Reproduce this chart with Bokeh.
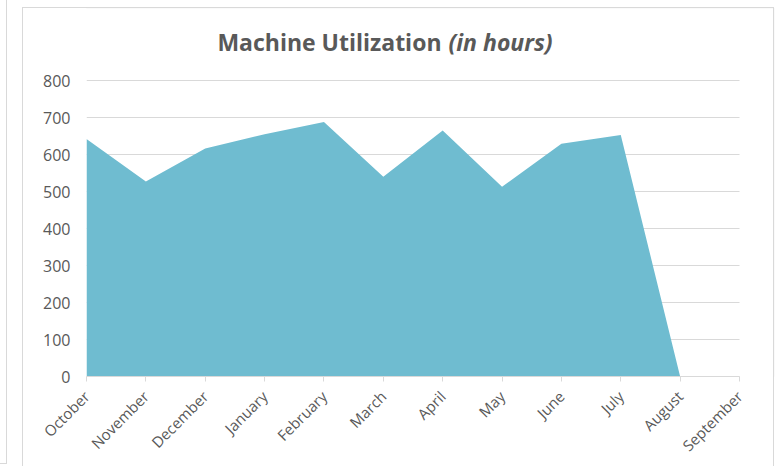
from math import pi
from bokeh.plotting import figure
from bokeh.models import Range1d, FixedTicker, Label, BoxAnnotation
from bokeh.embed import file_html
from bokeh.resources import INLINE

# ---- data ----
months = ["October", "November", "December", "January", "February", "March",
          "April", "May", "June", "July", "August", "September"]
hours = [642, 527, 616, 655, 688, 540, 665, 513, 629, 653, 0, None]
y_ticks = [0, 100, 200, 300, 400, 500, 600, 700, 800]
title_main = "Machine Utilization"
title_unit = "(in hours)"

# ---- layout (canvas pixels) ----
W, H = 776, 466
PLOT_L, PLOT_R, PLOT_T, PLOT_B = 86, 739, 80, 376      # where the data area sits
ML, MB = PLOT_L, H - PLOT_B                              # frame extends to top/right edges
X_LAST = len(months) - 1
Y_TOP = y_ticks[-1]
x_end = X_LAST * (W - PLOT_L) / (PLOT_R - PLOT_L)
y_end = Y_TOP * (PLOT_B - 0) / (PLOT_B - PLOT_T)

TXT = "#595959"
GRID = "#d9d9d9"
FILL = "#6fbcd0"
FONT = "Open Sans"

p = figure(width=W, height=H, output_backend="svg", toolbar_location=None, tools="",
           x_range=Range1d(0, x_end), y_range=Range1d(0, y_end),
           min_border_left=ML, min_border_right=0, min_border_top=0, min_border_bottom=MB)
p.title.visible = False
p.outline_line_color = None
p.background_fill_alpha = 0
p.border_fill_alpha = 0

# chart box borders drawn behind the transparent canvas
lines = [(6, 0, 1, 464), (0, 463, 7, 1), (22, 7, 1, 459), (22, 7, 752, 1), (773, 7, 1, 459)]
p.styles = {
    "background-color": "white",
    "background-image": ", ".join([f"linear-gradient({GRID}, {GRID})"] * len(lines)),
    "background-position": ", ".join(f"{x}px {y}px" for x, y, w, h in lines),
    "background-size": ", ".join(f"{w}px {h}px" for x, y, w, h in lines),
    "background-repeat": "no-repeat",
}

# grid lines (0..800), limited to the data area
p.xgrid.visible = False
p.ygrid.visible = False
p.segment(x0=[0] * len(y_ticks), x1=[X_LAST] * len(y_ticks), y0=y_ticks, y1=y_ticks,
          line_color=GRID, line_width=1)

xs = [i for i, v in enumerate(hours) if v is not None]
ys = [v for v in hours if v is not None]
p.varea(x=xs, y1=[0] * len(xs), y2=ys, fill_color=FILL, fill_alpha=1.0)

# x axis
xa = p.xaxis[0]
xa.ticker = FixedTicker(ticks=list(range(len(months))))
xa.bounds = (0, X_LAST)
xa.major_label_overrides = {i: m for i, m in enumerate(months)}
xa.major_label_orientation = pi / 4
xa.axis_line_color = GRID
xa.major_tick_line_color = GRID
xa.major_tick_in = 0
xa.major_tick_out = 5
xa.minor_tick_line_color = None
xa.major_label_text_color = TXT
xa.major_label_text_font = FONT
xa.major_label_text_font_size = "15px"
xa.major_label_standoff = 12

# y axis
ya = p.yaxis[0]
ya.ticker = FixedTicker(ticks=y_ticks)
ya.axis_line_color = None
ya.major_tick_line_color = None
ya.minor_tick_line_color = None
ya.major_tick_in = 0
ya.major_tick_out = 0
ya.major_label_standoff = 16
ya.major_label_text_color = TXT
ya.major_label_text_font = FONT
ya.major_label_text_font_size = "16px"

# borders inside the frame (top / right), in canvas units
p.add_layout(BoxAnnotation(left=22.5, right=773.5, top=7.5, bottom=H + 20,
                           left_units="canvas", right_units="canvas",
                           top_units="canvas", bottom_units="canvas",
                           fill_alpha=0, line_color=GRID, line_width=1, level="underlay"))

# title (two parts: bold + bold italic)
p.add_layout(Label(x=441, y=41, x_units="canvas", y_units="canvas", text=title_main,
                   text_align="right", text_baseline="alphabetic", text_font=FONT,
                   text_font_style="bold", text_font_size="23px", text_color=TXT))
p.add_layout(Label(x=448, y=41, x_units="canvas", y_units="canvas", text=title_unit,
                   text_align="left", text_baseline="alphabetic", text_font=FONT,
                   text_font_style="bold italic", text_font_size="23px", text_color=TXT))

open("out.html", "w").write(file_html(p, INLINE))
